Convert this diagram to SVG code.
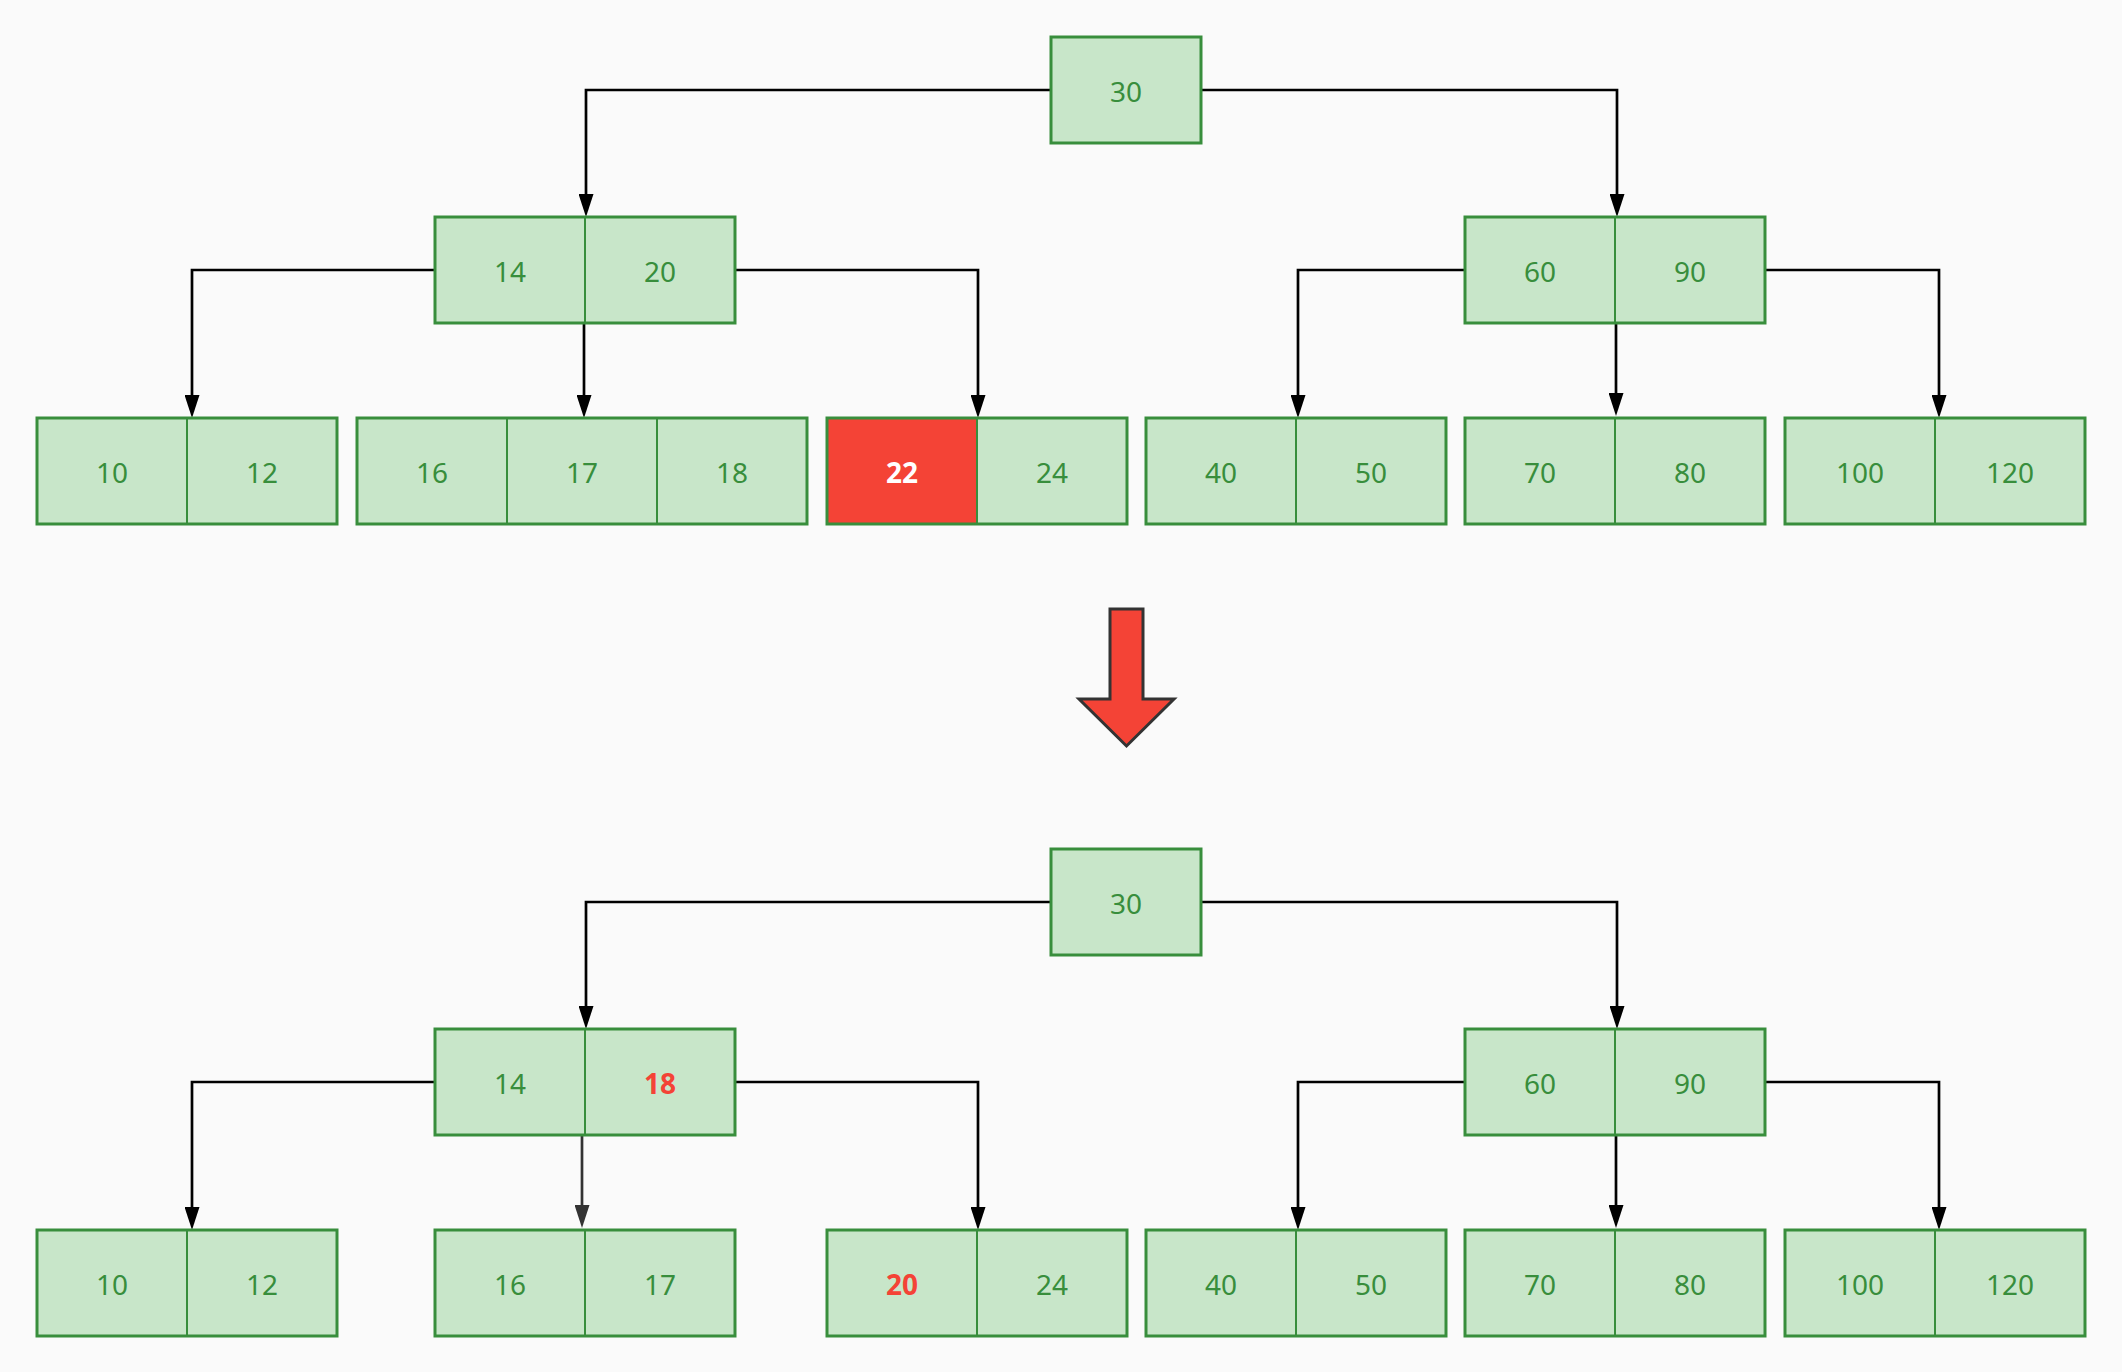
<svg xmlns="http://www.w3.org/2000/svg" width="2122" height="1372" viewBox="0 0 2122 1372">
<style>
.cell{fill:#C8E6C9;stroke:#388E3C;stroke-width:2}
.red{fill:#F44336;stroke:#388E3C;stroke-width:2}
.outer{fill:none;stroke:#388E3C;stroke-width:3}
.t{font-family:"Noto Sans","Open Sans",sans-serif;font-size:28px;fill:#388E3C;text-anchor:middle}
.tw{font-family:"Noto Sans","Open Sans",sans-serif;font-size:28px;font-weight:bold;fill:#FFFFFF;text-anchor:middle}
.tr{font-family:"Noto Sans","Open Sans",sans-serif;font-size:28px;font-weight:bold;fill:#F44336;text-anchor:middle}
.c{fill:none;stroke:#000;stroke-width:2.7}
.c2{fill:none;stroke:#333;stroke-width:2.7}
</style>
<defs>
<marker id="ah" viewBox="0 0 23 15" refX="17" refY="7.5" markerWidth="23" markerHeight="15" markerUnits="userSpaceOnUse" orient="auto">
<path d="M0,0 L23,7.5 L0,15 z" fill="#000"/>
</marker>
<marker id="ah2" viewBox="0 0 23 15" refX="17" refY="7.5" markerWidth="23" markerHeight="15" markerUnits="userSpaceOnUse" orient="auto">
<path d="M0,0 L23,7.5 L0,15 z" fill="#333"/>
</marker>
</defs>
<rect width="2122" height="1372" fill="#FAFAFA"/>

<g id="connectors">
<path class="c" d="M1051,90 H586 V211" marker-end="url(#ah)"/>
<path class="c" d="M1201,90 H1617 V211" marker-end="url(#ah)"/>
<path class="c" d="M435,270 H192 V412" marker-end="url(#ah)"/>
<path class="c" d="M584,323 V412" marker-end="url(#ah)"/>
<path class="c" d="M735,270 H978 V412" marker-end="url(#ah)"/>
<path class="c" d="M1465,270 H1298 V412" marker-end="url(#ah)"/>
<path class="c" d="M1616,323 V410" marker-end="url(#ah)"/>
<path class="c" d="M1765,270 H1939 V412" marker-end="url(#ah)"/>

<path class="c" d="M1051,902 H586 V1023" marker-end="url(#ah)"/>
<path class="c" d="M1201,902 H1617 V1023" marker-end="url(#ah)"/>
<path class="c" d="M435,1082 H192 V1224" marker-end="url(#ah)"/>
<path class="c2" d="M582,1135 V1222" marker-end="url(#ah2)"/>
<path class="c" d="M735,1082 H978 V1224" marker-end="url(#ah)"/>
<path class="c" d="M1465,1082 H1298 V1224" marker-end="url(#ah)"/>
<path class="c" d="M1616,1135 V1222" marker-end="url(#ah)"/>
<path class="c" d="M1765,1082 H1939 V1224" marker-end="url(#ah)"/>
</g>

<!-- top tree -->
<g id="top-root">
<rect class="cell" x="1051" y="37" width="150" height="106"/>
<rect class="outer" x="1051" y="37" width="150" height="106"/>
<text class="t" x="1126" y="102">30</text>
</g>
<g id="top-l2-left">
<rect class="cell" x="435" y="217" width="150" height="106"/>
<rect class="cell" x="585" y="217" width="150" height="106"/>
<rect class="outer" x="435" y="217" width="300" height="106"/>
<text class="t" x="510" y="282">14</text>
<text class="t" x="660" y="282">20</text>
</g>
<g id="top-l2-right">
<rect class="cell" x="1465" y="217" width="150" height="106"/>
<rect class="cell" x="1615" y="217" width="150" height="106"/>
<rect class="outer" x="1465" y="217" width="300" height="106"/>
<text class="t" x="1540" y="282">60</text>
<text class="t" x="1690" y="282">90</text>
</g>
<g id="top-leaf-a">
<rect class="cell" x="37" y="418" width="150" height="106"/>
<rect class="cell" x="187" y="418" width="150" height="106"/>
<rect class="outer" x="37" y="418" width="300" height="106"/>
<text class="t" x="112" y="483">10</text>
<text class="t" x="262" y="483">12</text>
</g>
<g id="top-leaf-b">
<rect class="cell" x="357" y="418" width="150" height="106"/>
<rect class="cell" x="507" y="418" width="150" height="106"/>
<rect class="cell" x="657" y="418" width="150" height="106"/>
<rect class="outer" x="357" y="418" width="450" height="106"/>
<text class="t" x="432" y="483">16</text>
<text class="t" x="582" y="483">17</text>
<text class="t" x="732" y="483">18</text>
</g>
<g id="top-leaf-c">
<rect class="red" x="827" y="418" width="150" height="106"/>
<rect class="cell" x="977" y="418" width="150" height="106"/>
<rect class="outer" x="827" y="418" width="300" height="106"/>
<text class="tw" x="902" y="483">22</text>
<text class="t" x="1052" y="483">24</text>
</g>
<g id="top-leaf-d">
<rect class="cell" x="1146" y="418" width="150" height="106"/>
<rect class="cell" x="1296" y="418" width="150" height="106"/>
<rect class="outer" x="1146" y="418" width="300" height="106"/>
<text class="t" x="1221" y="483">40</text>
<text class="t" x="1371" y="483">50</text>
</g>
<g id="top-leaf-e">
<rect class="cell" x="1465" y="418" width="150" height="106"/>
<rect class="cell" x="1615" y="418" width="150" height="106"/>
<rect class="outer" x="1465" y="418" width="300" height="106"/>
<text class="t" x="1540" y="483">70</text>
<text class="t" x="1690" y="483">80</text>
</g>
<g id="top-leaf-f">
<rect class="cell" x="1785" y="418" width="150" height="106"/>
<rect class="cell" x="1935" y="418" width="150" height="106"/>
<rect class="outer" x="1785" y="418" width="300" height="106"/>
<text class="t" x="1860" y="483">100</text>
<text class="t" x="2010" y="483">120</text>
</g>

<g id="transition-arrow">
<polygon points="1110,609 1143,609 1143,699 1174,699 1126.5,746 1079,699 1110,699" fill="#F44336" stroke="#333" stroke-width="3"/>
</g>

<!-- bottom tree -->
<g id="bottom-root">
<rect class="cell" x="1051" y="849" width="150" height="106"/>
<rect class="outer" x="1051" y="849" width="150" height="106"/>
<text class="t" x="1126" y="914">30</text>
</g>
<g id="bottom-l2-left">
<rect class="cell" x="435" y="1029" width="150" height="106"/>
<rect class="cell" x="585" y="1029" width="150" height="106"/>
<rect class="outer" x="435" y="1029" width="300" height="106"/>
<text class="t" x="510" y="1094">14</text>
<text class="tr" x="660" y="1094">18</text>
</g>
<g id="bottom-l2-right">
<rect class="cell" x="1465" y="1029" width="150" height="106"/>
<rect class="cell" x="1615" y="1029" width="150" height="106"/>
<rect class="outer" x="1465" y="1029" width="300" height="106"/>
<text class="t" x="1540" y="1094">60</text>
<text class="t" x="1690" y="1094">90</text>
</g>
<g id="bottom-leaf-a">
<rect class="cell" x="37" y="1230" width="150" height="106"/>
<rect class="cell" x="187" y="1230" width="150" height="106"/>
<rect class="outer" x="37" y="1230" width="300" height="106"/>
<text class="t" x="112" y="1295">10</text>
<text class="t" x="262" y="1295">12</text>
</g>
<g id="bottom-leaf-b">
<rect class="cell" x="435" y="1230" width="150" height="106"/>
<rect class="cell" x="585" y="1230" width="150" height="106"/>
<rect class="outer" x="435" y="1230" width="300" height="106"/>
<text class="t" x="510" y="1295">16</text>
<text class="t" x="660" y="1295">17</text>
</g>
<g id="bottom-leaf-c">
<rect class="cell" x="827" y="1230" width="150" height="106"/>
<rect class="cell" x="977" y="1230" width="150" height="106"/>
<rect class="outer" x="827" y="1230" width="300" height="106"/>
<text class="tr" x="902" y="1295">20</text>
<text class="t" x="1052" y="1295">24</text>
</g>
<g id="bottom-leaf-d">
<rect class="cell" x="1146" y="1230" width="150" height="106"/>
<rect class="cell" x="1296" y="1230" width="150" height="106"/>
<rect class="outer" x="1146" y="1230" width="300" height="106"/>
<text class="t" x="1221" y="1295">40</text>
<text class="t" x="1371" y="1295">50</text>
</g>
<g id="bottom-leaf-e">
<rect class="cell" x="1465" y="1230" width="150" height="106"/>
<rect class="cell" x="1615" y="1230" width="150" height="106"/>
<rect class="outer" x="1465" y="1230" width="300" height="106"/>
<text class="t" x="1540" y="1295">70</text>
<text class="t" x="1690" y="1295">80</text>
</g>
<g id="bottom-leaf-f">
<rect class="cell" x="1785" y="1230" width="150" height="106"/>
<rect class="cell" x="1935" y="1230" width="150" height="106"/>
<rect class="outer" x="1785" y="1230" width="300" height="106"/>
<text class="t" x="1860" y="1295">100</text>
<text class="t" x="2010" y="1295">120</text>
</g>
</svg>
